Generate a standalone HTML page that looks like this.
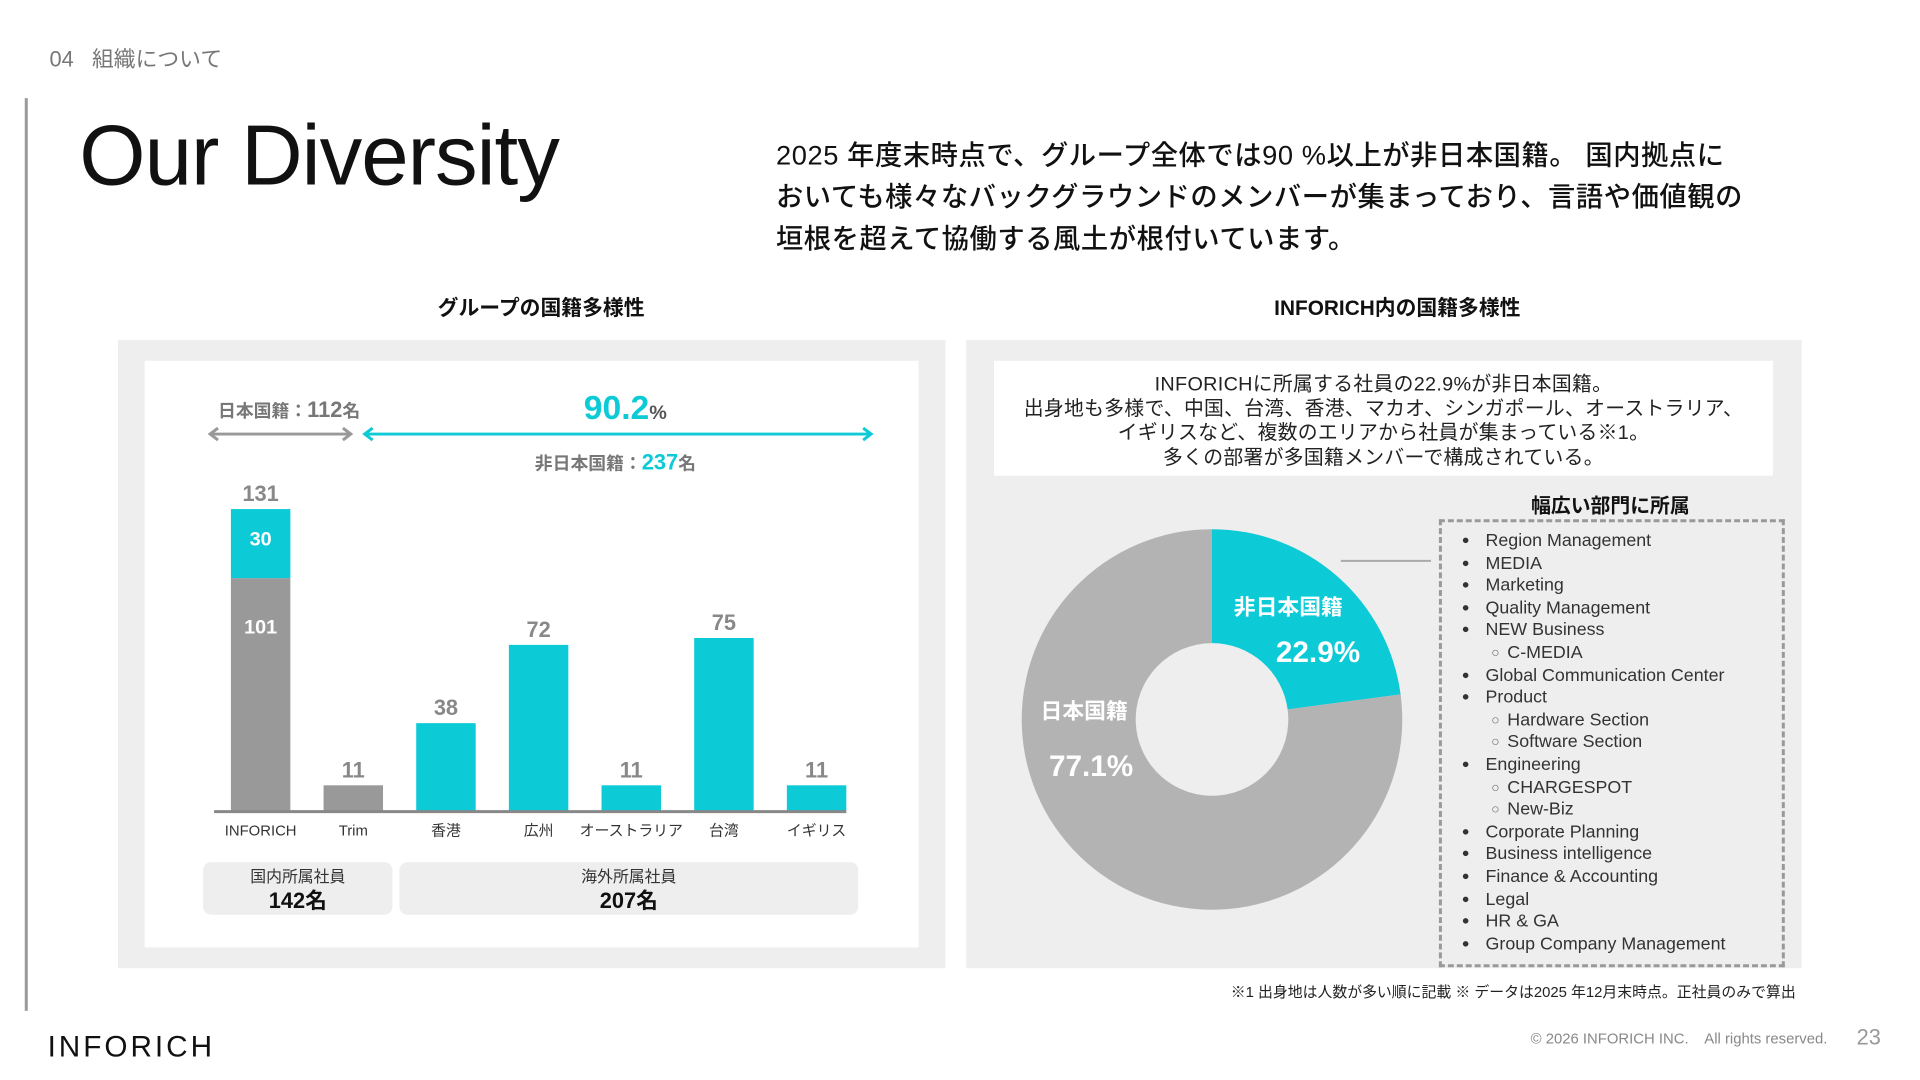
<!DOCTYPE html>
<html><head><meta charset="utf-8"><style>
body{margin:0;width:1920px;height:1080px;background:#fff;position:relative;overflow:hidden;font-family:"Liberation Sans","Noto Sans CJK JP",sans-serif;color:#111}
#wrap{position:absolute;left:0;top:0;width:1920px;height:1080px;transform:scale(0.991);transform-origin:0 0}
.a{position:absolute}
.it{height:22.6px;line-height:22.6px;white-space:nowrap}
.it span{line-height:22.6px;vertical-align:top}
</style></head><body><div id="wrap">
<div class="a" style="left:50px;top:42px;font-size:22px;color:#777">04&nbsp;&nbsp;&nbsp;組織について</div>
<div class="a" style="left:25px;top:99px;width:3px;height:921px;background:#999"></div>
<div class="a" style="left:80px;top:108px;font-size:86px;font-weight:500;letter-spacing:-1px">Our Diversity</div>
<div class="a" style="left:783px;top:136px;font-size:27.5px;line-height:42px;font-weight:500;letter-spacing:0.6px">2025 年度末時点で、グループ全体では90 %以上が非日本国籍。 国内拠点に<br>おいても様々なバックグラウンドのメンバーが集まっており、言語や価値観の<br>垣根を超えて協働する風土が根付いています。</div>

<div class="a" style="left:346px;width:400px;text-align:center;top:295px;font-size:21px;font-weight:bold">グループの国籍多様性</div>
<div class="a" style="left:1210px;width:400px;text-align:center;top:295px;font-size:21px;font-weight:bold">INFORICH内の国籍多様性</div>

<div class="a" style="left:119px;top:343px;width:835px;height:634px;background:#eeeeee"></div>
<div class="a" style="left:146px;top:364px;width:781px;height:592px;background:#fff"></div>
<div class="a" style="left:975px;top:343px;width:843px;height:634px;background:#eeeeee"></div>
<div class="a" style="left:1003px;top:364px;width:786px;height:116px;background:#fff;text-align:center;font-size:20px;line-height:24.5px;padding-top:12px;box-sizing:border-box;color:#222;letter-spacing:0.3px">INFORICHに所属する社員の22.9%が非日本国籍。<br>出身地も多様で、中国、台湾、香港、マカオ、シンガポール、オーストラリア、<br>イギリスなど、複数のエリアから社員が集まっている※1。<br>多くの部署が多国籍メンバーで構成されている。</div>

<svg class="a" style="left:0;top:0" width="1920" height="1080" id="chart"></svg>

<div class="a" style="left:1475px;width:300px;text-align:center;top:494px;font-size:20px;font-weight:bold">幅広い部門に所属</div>
<div class="a" style="left:1452px;top:524px;width:349px;height:452px;border:3px dashed #999;box-sizing:border-box"></div>
<div class="a" id="list" style="left:1475px;top:534px;font-size:18px;color:#333"></div>

<div class="a" style="right:108px;top:990px;font-size:15px;color:#222">※1 出身地は人数が多い順に記載 ※ データは2025 年12月末時点。正社員のみで算出</div>
<div class="a" style="left:48px;top:1040px;font-size:30px;letter-spacing:3px;color:#111">INFORICH</div>
<div class="a" style="right:76px;top:1040px;font-size:15px;color:#888">© 2026 INFORICH INC.&nbsp;&nbsp;&nbsp; All rights reserved.</div>
<div class="a" style="right:22px;top:1034px;font-size:22px;color:#999">23</div>
</div>
<script>
const categories=["INFORICH","Trim","香港","広州","オーストラリア","台湾","イギリス"];
const japaneseValues=[101,11,0,0,0,0,0];
const foreignValues=[30,0,38,72,11,75,11];
const totals=[131,11,38,72,11,75,11];
const donutLabels=["非日本国籍","日本国籍"];
const donutValues=[22.9,77.1];
const depts=[["Region Management",0],["MEDIA",0],["Marketing",0],["Quality Management",0],["NEW Business",0],["C-MEDIA",1],["Global Communication Center",0],["Product",0],["Hardware Section",1],["Software Section",1],["Engineering",0],["CHARGESPOT",1],["New-Biz",1],["Corporate Planning",0],["Business intelligence",0],["Finance & Accounting",0],["Legal",0],["HR & GA",0],["Group Company Management",0]];

const NS="http://www.w3.org/2000/svg";const svg=document.getElementById('chart');
function mk(t,at,txt){const e=document.createElementNS(NS,t);for(const k in at)e.setAttribute(k,at[k]);if(txt!==undefined)e.textContent=txt;svg.appendChild(e);return e;}
const CY="#0ccad6",GR="#999999";
const base=818,x0=216,x1=854,unit=2.323,bw=60;
const xPos=i=>263+i*93.5;
const yPos=v=>base-v*unit;
let t;
t=mk('text',{x:220,y:421,'font-size':18,fill:'#777','font-weight':'bold'});t.innerHTML='日本国籍：<tspan font-size="22">112</tspan>名';
t=mk('path',{d:'M212 438 H354 M220 432 L212 438 L220 444 M346 432 L354 438 L346 444',stroke:'#999','stroke-width':3,fill:'none'});
t=mk('path',{d:'M368 438 H879 M376 432 L368 438 L376 444 M871 432 L879 438 L871 444',stroke:CY,'stroke-width':3,fill:'none'});
t=mk('text',{x:631,y:423,'text-anchor':'middle','font-size':34,fill:CY,'font-weight':'bold'});t.innerHTML='90.2<tspan font-size="20" fill="#555">%</tspan>';
t=mk('text',{x:621,y:474,'text-anchor':'middle','font-size':18,fill:'#777','font-weight':'bold'});t.innerHTML='非日本国籍：<tspan fill="'+CY+'" font-size="22">237</tspan>名';
categories.forEach((c,i)=>{
 const cx=xPos(i);let y=base;
 if(japaneseValues[i]>0){const h=japaneseValues[i]*unit;const r=mk('rect',{x:cx-bw/2,y:y-h,width:bw,height:h,fill:GR});
  if(foreignValues[i]>0){const l=mk('text',{x:cx,y:y-h+56,'text-anchor':'middle','font-size':20,'font-weight':'bold',fill:'#fff'},japaneseValues[i]);}
  y-=h;}
 if(foreignValues[i]>0){const h=foreignValues[i]*unit;const r=mk('rect',{x:cx-bw/2,y:y-h,width:bw,height:h,fill:CY});
  if(japaneseValues[i]>0){const l=mk('text',{x:cx,y:y-h+37,'text-anchor':'middle','font-size':20,'font-weight':'bold',fill:'#fff'},foreignValues[i]);}
  y-=h;}
 const v=mk('text',{x:cx,y:yPos(totals[i])-8,'text-anchor':'middle','font-size':22,'font-weight':'bold',fill:'#888'},totals[i]);
 const cl=mk('text',{x:cx,y:843,'text-anchor':'middle','font-size':15,fill:'#333'},c);
});
t=mk('line',{x1:x0,x2:x1,y1:base+1,y2:base+1,stroke:'#888','stroke-width':3});
[[205,396,'国内所属社員','142名'],[403,866,'海外所属社員','207名']].forEach((g,i)=>{
 const r=mk('rect',{x:g[0],y:870,width:g[1]-g[0],height:53,rx:8,fill:'#eeeeee'});
 const m=(g[0]+g[1])/2;const a=mk('text',{x:m,y:890,'text-anchor':'middle','font-size':16,fill:'#333'},g[2]);
 const b=mk('text',{x:m,y:916,'text-anchor':'middle','font-size':22,'font-weight':'bold',fill:'#111'},g[3]);
});
const dcx=1223,dcy=726,R=192,r0=77;const tot=donutValues.reduce((a,b)=>a+b,0);let ang=-Math.PI/2;
const cols=[CY,"#b3b3b3"];
donutValues.forEach((v,i)=>{const a2=ang+v/tot*2*Math.PI;const lg=(a2-ang)>Math.PI?1:0;
 const p=`M${dcx+R*Math.cos(ang)} ${dcy+R*Math.sin(ang)} A${R} ${R} 0 ${lg} 1 ${dcx+R*Math.cos(a2)} ${dcy+R*Math.sin(a2)} L${dcx+r0*Math.cos(a2)} ${dcy+r0*Math.sin(a2)} A${r0} ${r0} 0 ${lg} 0 ${dcx+r0*Math.cos(ang)} ${dcy+r0*Math.sin(ang)} Z`;
 const s=mk('path',{d:p,fill:cols[i]});ang=a2;});
t=mk('line',{x1:1353,x2:1444,y1:566,y2:566,stroke:'#aaa','stroke-width':2});
[[1300,620,donutLabels[0],22],[1330,668,donutValues[0]+'%',30],[1094,725,donutLabels[1],22],[1101,783,donutValues[1]+'%',30]].forEach(l=>{
 const e=mk('text',{x:l[0],y:l[1],'text-anchor':'middle','font-size':l[3],'font-weight':'bold',fill:'#fff'},l[2]);});
const list=document.getElementById('list');
depts.forEach(d=>{const el=document.createElement('div');
 
 
 el.className='it';
 el.innerHTML=d[1]?'<span style="display:inline-block;width:46px;text-align:right;font-size:14px;color:#666">○&nbsp;&nbsp;</span>'+d[0]:'<span style="display:inline-block;width:24px;font-size:13px">●</span>'+d[0];
 list.appendChild(el);});
</script>
</body></html>
